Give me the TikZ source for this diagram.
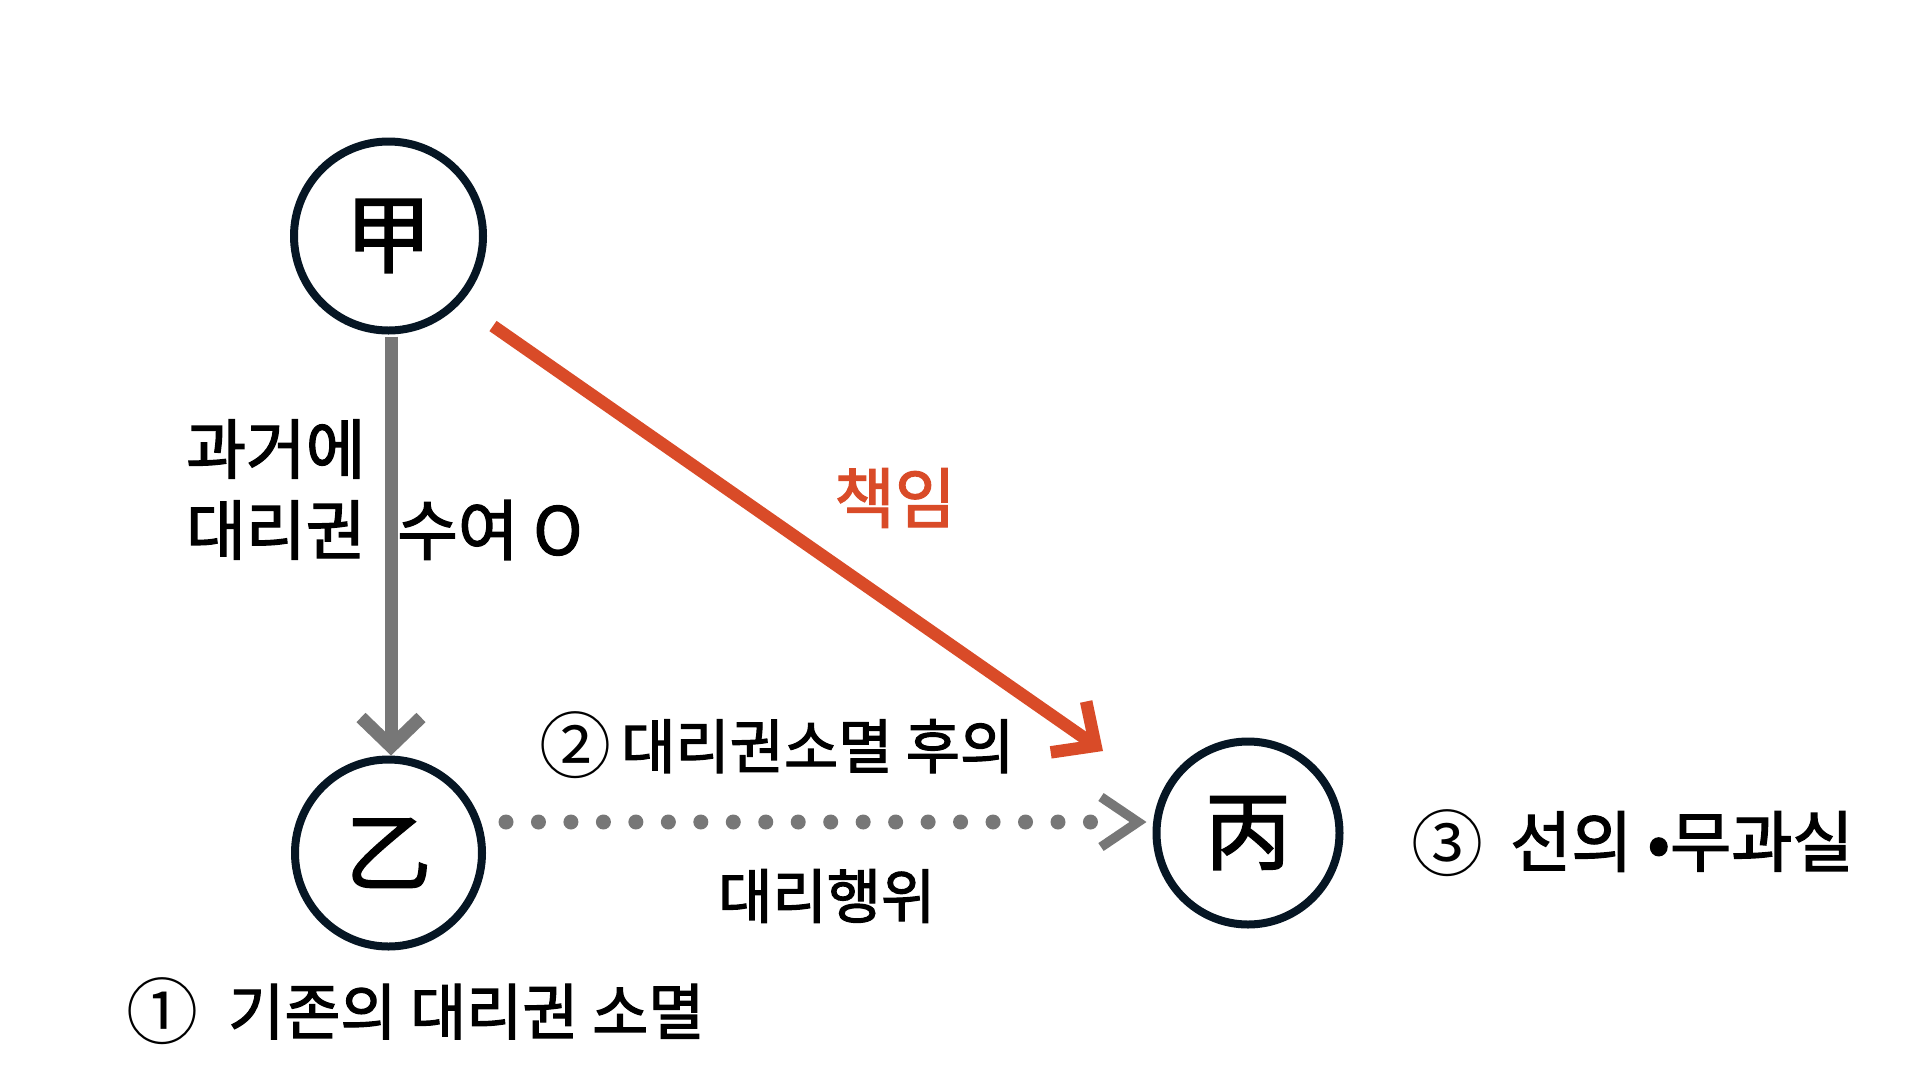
\documentclass[tikz,border=0pt]{standalone}
\usepackage{fontspec}
\setmainfont{Noto Sans CJK KR}[FakeBold=2]
\newfontfamily\plainkr{Noto Sans CJK KR}
\usetikzlibrary{arrows.meta}
\definecolor{navy}{RGB}{6,22,36}
\definecolor{arrgray}{RGB}{119,119,119}
\definecolor{arrred}{RGB}{217,75,40}
\newcommand{\circnum}[1]{\raisebox{-4pt}{\plainkr\fontsize{72}{76}\selectfont #1}}
\begin{document}
\begin{tikzpicture}[x=1pt,y=-1pt,
  party/.style={circle,draw=navy,line width=8pt,inner sep=0pt,outer sep=0pt,fill=white,
    font=\fontsize{86}{90}\selectfont},
  lbl/.style={inner sep=0pt,anchor=west,text=black,font=\fontsize{65}{68}\selectfont},
  grayarr/.style={draw=arrgray,line width=13pt,
    -{Straight Barb[length=29pt,width=60pt]}},
  redarr/.style={draw=arrred,line width=12.5pt,
    -{Straight Barb[length=33pt,width=62pt]}},
  dotline/.style={draw=arrgray,line width=15pt,line cap=round,
    dash pattern=on 0pt off 32.47pt},
  chev/.style={draw=arrgray,line width=9.5pt,line join=miter,line cap=butt}]
\useasboundingbox (0,0) rectangle (1920,1080);
\fill[white] (0,0) rectangle (1920,1080);

% parties
\node[party,minimum size=189pt] (A) at (388.5,236) {甲};
\node[party,minimum size=187pt] (B) at (388.5,853) {乙};
\node[party,minimum size=183pt] (C) at (1248,833) {丙};

% connectors
\draw[grayarr] ([xshift=2.5pt,yshift=-6pt]A.south) -- ([xshift=2.5pt,yshift=4pt]B.north);
\coordinate (r1) at (493,326);
\coordinate (r2) at (1103,751);
\draw[redarr] (r1) -- (r2);
\draw[dotline] ([xshift=24pt,yshift=31pt]B.east) -- ([xshift=-65.3pt,yshift=11pt]C.west);
\coordinate (ctip) at ([xshift=-18.5pt,yshift=11pt]C.west);
\draw[chev] (ctip) ++(-37,-25) -- (ctip) -- ++(-37,25);

% labels
\node[lbl] (t1) at (186,449) {과거에};
\node[lbl] (t2) at (186,530) {대리권};
\node[lbl,font=\fontsize{66}{68}\selectfont] (t3) at (397,530) {수여 O};
\node[lbl,text=arrred,font=\fontsize{66}{68}\selectfont] (t4) at (834,498) {책임};
\node[lbl,font=\fontsize{59}{62}\selectfont] (t5) at (539,745) {\circnum{②}\hspace{10pt}대리권소멸 후의};
\node[lbl,font=\fontsize{59}{62}\selectfont] (t6) at (718,896) {대리행위};
\node[lbl,font=\fontsize{66.5}{68}\selectfont] (t7) at (1411,843) {\circnum{③}\hspace{27pt}선의 •무과실};
\node[lbl,font=\fontsize{61}{64}\selectfont] (t8) at (126,1011) {\circnum{①}\hspace{30pt}기존의 대리권 소멸};
\end{tikzpicture}
\end{document}
